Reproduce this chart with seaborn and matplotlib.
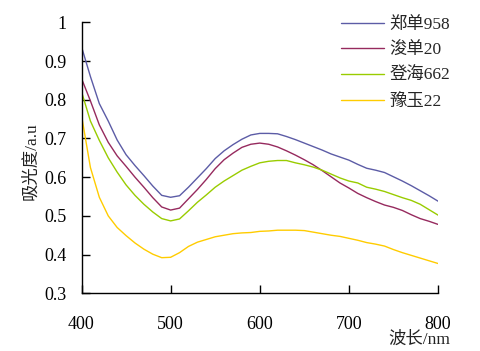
import numpy as np
import pandas as pd
import matplotlib
matplotlib.use("Agg")
import matplotlib.pyplot as plt
import matplotlib.ticker as mticker
import seaborn as sns

wavelength = list(range(400, 801, 10))

zd958 = [0.937, 0.860, 0.790, 0.745, 0.696, 0.658, 0.630, 0.604, 0.577, 0.553,
         0.548, 0.552, 0.574, 0.598, 0.622, 0.648, 0.668, 0.684, 0.698, 0.709,
         0.713, 0.713, 0.712, 0.705, 0.697, 0.688, 0.679, 0.670, 0.660, 0.652,
         0.644, 0.633, 0.623, 0.618, 0.612, 0.601, 0.590, 0.578, 0.565, 0.552,
         0.538]
xd20 = [0.855, 0.797, 0.735, 0.690, 0.655, 0.628, 0.600, 0.574, 0.547, 0.523,
        0.515, 0.520, 0.544, 0.568, 0.594, 0.622, 0.645, 0.662, 0.677, 0.685,
        0.688, 0.685, 0.678, 0.668, 0.657, 0.645, 0.632, 0.617, 0.601, 0.585,
        0.572, 0.558, 0.547, 0.537, 0.528, 0.522, 0.514, 0.503, 0.493, 0.486,
        0.478]
dh662 = [0.821, 0.745, 0.695, 0.650, 0.613, 0.580, 0.553, 0.530, 0.510, 0.493,
         0.487, 0.492, 0.513, 0.535, 0.554, 0.574, 0.590, 0.604, 0.618, 0.628,
         0.637, 0.641, 0.643, 0.643, 0.637, 0.632, 0.626, 0.618, 0.608, 0.598,
         0.590, 0.585, 0.574, 0.569, 0.563, 0.555, 0.547, 0.540, 0.530, 0.516,
         0.502]
yy22 = [0.760, 0.625, 0.548, 0.500, 0.470, 0.449, 0.430, 0.414, 0.401, 0.392,
        0.393, 0.405, 0.421, 0.432, 0.439, 0.446, 0.450, 0.454, 0.456, 0.457,
        0.460, 0.461, 0.463, 0.463, 0.463, 0.462, 0.458, 0.454, 0.450, 0.447,
        0.442, 0.437, 0.431, 0.427, 0.422, 0.413, 0.405, 0.398, 0.391, 0.384,
        0.377]

series_names = ["郑单958", "浚单20", "登海662", "豫玉22"]
series_values = [zd958, xd20, dh662, yy22]
colors = ["#5c5ca6", "#962a5e", "#99cc00", "#ffcc00"]

x_ticks = [400, 500, 600, 700, 800]
y_ticks = [0.3, 0.4, 0.5, 0.6, 0.7, 0.8, 0.9, 1.0]

rows = []
for name, vals in zip(series_names, series_values):
    for w, v in zip(wavelength, vals):
        rows.append({"wl": w, "abs": v, "variety": name})
df = pd.DataFrame(rows)

sns.set_style("ticks")
fam = ["Liberation Serif", "Noto Sans CJK SC", "DejaVu Sans"]
plt.rcParams["font.family"] = fam

fig = plt.figure(figsize=(4.81, 3.51), dpi=100)
ax = fig.add_axes([81.5 / 481, 1 - 293.3 / 351, (438 - 81.5) / 481, (293.3 - 22.3) / 351])

sns.lineplot(data=df, x="wl", y="abs", hue="variety", hue_order=series_names,
             palette=colors, linewidth=1.0, ax=ax, legend=True)

ax.set_xlim(400, 800)
ax.set_ylim(0.3, 1.0)
ax.set_xticks(x_ticks)
ax.set_yticks(y_ticks)
ax.yaxis.set_major_formatter(mticker.FuncFormatter(lambda v, p: "%g" % round(v, 2)))
ax.tick_params(direction="in", length=6, width=1, labelsize=13, colors="black")
ax.tick_params(axis="x", pad=16)
ax.tick_params(axis="y", pad=11)
for s in ["top", "right"]:
    ax.spines[s].set_visible(False)
for s in ["left", "bottom"]:
    ax.spines[s].set_linewidth(1.0)
    ax.spines[s].set_color("black")

ax.set_xlabel("")
ax.set_ylabel("")
fig.text(31 / 481, 1 - 161 / 351, "吸光度/a.u", rotation=90, ha="center", va="center",
         fontsize=12.5, family=fam, color="#222222")
fig.text(450 / 481, 1 - 340 / 351, "波长/nm", ha="right", va="center",
         fontsize=12.5, family=fam, color="#222222")

leg = ax.legend(loc="upper left", bbox_to_anchor=(341 / 481, 1 - 16.5 / 351),
                bbox_transform=fig.transFigure, frameon=False, fontsize=12.5,
                handlelength=2.5, handletextpad=0.3, labelspacing=0.56,
                borderpad=0, borderaxespad=0, title=None)
for line in leg.get_lines():
    line.set_linewidth(1.0)

fig.savefig("out.png", dpi=100)
